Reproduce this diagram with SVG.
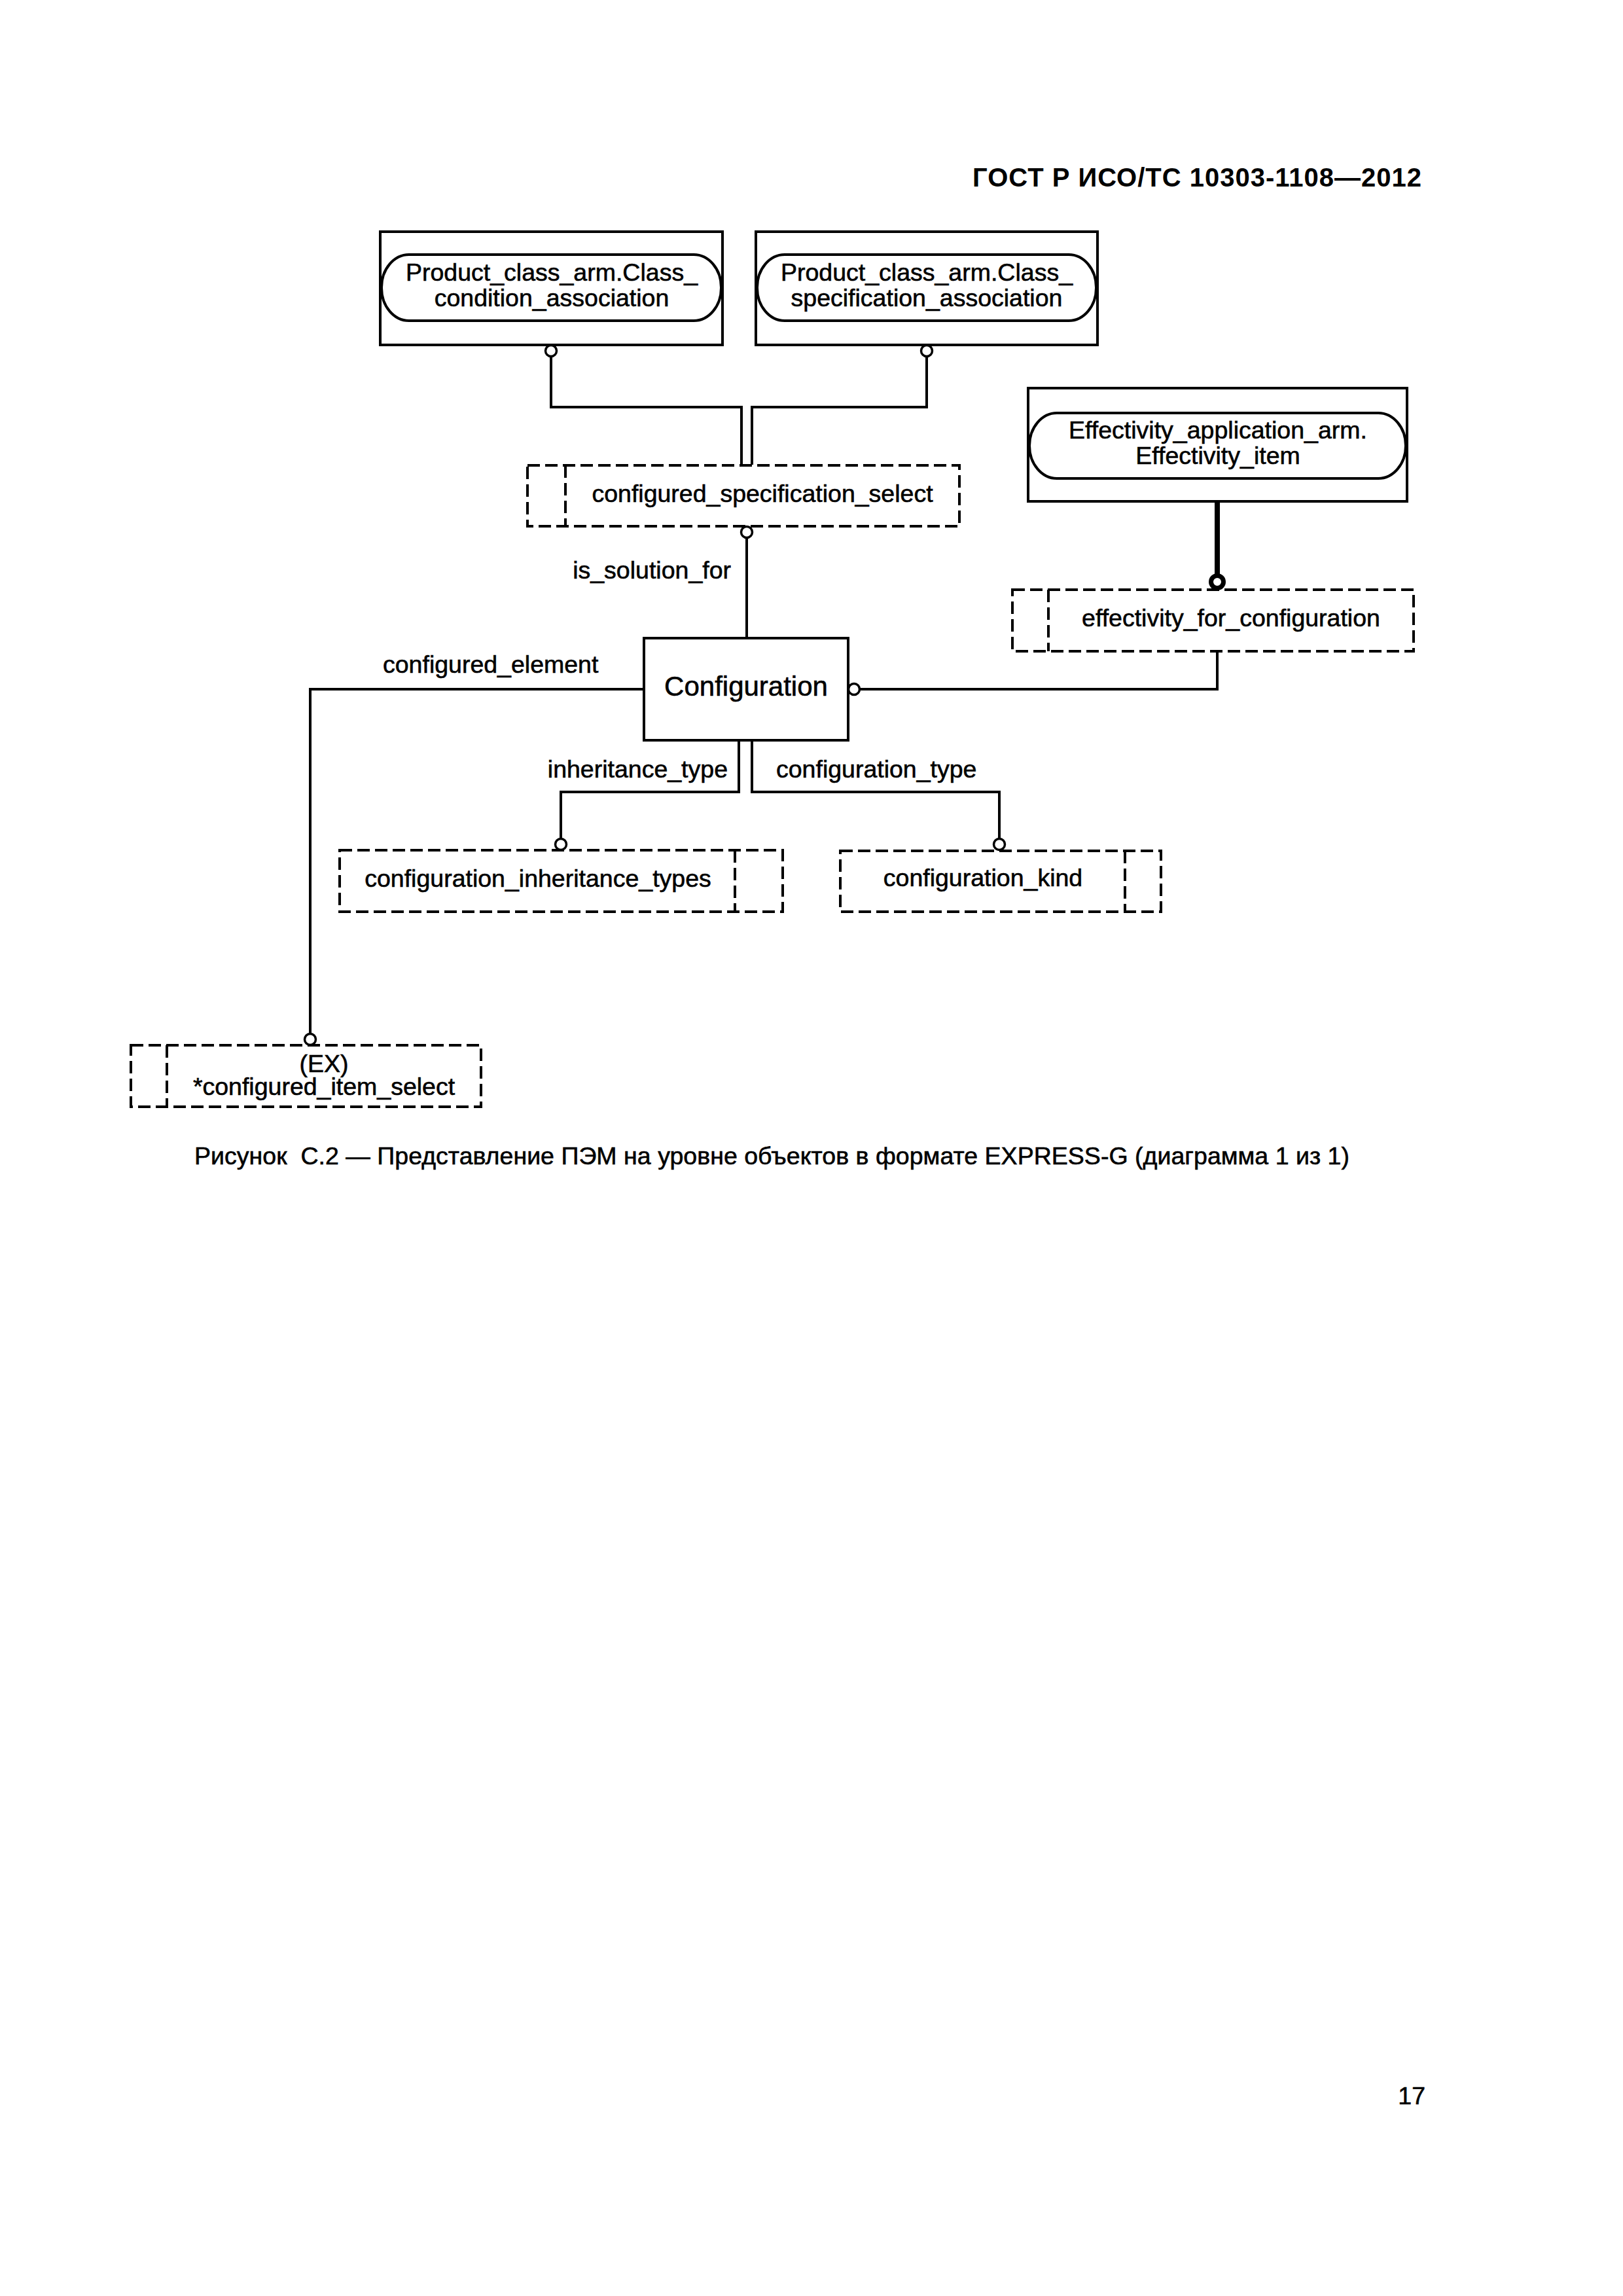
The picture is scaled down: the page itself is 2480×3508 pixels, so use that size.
<svg xmlns="http://www.w3.org/2000/svg" width="2480" height="3508" viewBox="0 0 2480 3508">
<style>
.box{fill:none;stroke:#000;stroke-width:4}
.dash{fill:none;stroke:#000;stroke-width:4;stroke-dasharray:19 8}
.ln{fill:none;stroke:#000;stroke-width:4}
.thick{fill:none;stroke:#000;stroke-width:8}
.circ{fill:#fff;stroke:#000;stroke-width:3.5}
.tcirc{fill:#fff;stroke:#000;stroke-width:7}
.t{font-family:"Liberation Sans",Arial,sans-serif;font-size:37.5px;fill:#000;stroke:#000;stroke-width:0.6}
.tc{font-family:"Liberation Sans",Arial,sans-serif;font-size:37.5px;fill:#000;text-anchor:middle;stroke:#000;stroke-width:0.6}
.big{font-family:"Liberation Sans",Arial,sans-serif;font-size:42px;fill:#000;text-anchor:middle;stroke:#000;stroke-width:0.6}
.hdr{font-family:"Liberation Sans",Arial,sans-serif;font-size:40px;font-weight:bold;fill:#000;text-anchor:end}
</style>
<rect x="0" y="0" width="2480" height="3508" fill="#fff"/>
<text class="hdr" x="2172" y="285" textLength="686">ГОСТ Р ИСО/ТС 10303-1108—2012</text>

<g id="connectors">
<path class="ln" d="M842 545 V622 H1133 V710"/>
<path class="ln" d="M1416 545 V622 H1149 V710"/>
<path class="ln" d="M1141 822 V975"/>
<path class="thick" d="M1860 766 V880"/>
<path class="ln" d="M1860 995 V1053 H1314"/>
<path class="ln" d="M984 1053 H474 V1580"/>
<path class="ln" d="M1129 1131 V1210 H857 V1281"/>
<path class="ln" d="M1149 1131 V1210 H1527 V1281"/>
<circle class="circ" cx="842" cy="536" r="8.5"/>
<circle class="circ" cx="1416" cy="536" r="8.5"/>
<circle class="circ" cx="1141" cy="813" r="8.5"/>
<circle class="circ" cx="1305" cy="1053" r="8.5"/>
<circle class="circ" cx="857" cy="1290" r="8.5"/>
<circle class="circ" cx="1527" cy="1290" r="8.5"/>
<circle class="circ" cx="474" cy="1588" r="8.5"/>
<circle class="tcirc" cx="1860" cy="889" r="9.5"/>
<text class="t" x="1117" y="884" text-anchor="end">is_solution_for</text>
<text class="t" x="585" y="1028">configured_element</text>
<text class="t" x="1112" y="1188" text-anchor="end">inheritance_type</text>
<text class="t" x="1186" y="1188">configuration_type</text>
</g>

<g id="product_class_condition">
<rect class="box" x="581" y="354" width="523" height="173"/>
<rect class="box" x="583" y="389" width="519" height="101" rx="42" ry="50"/>
<text class="tc" x="843" y="429">Product_class_arm.Class_</text>
<text class="tc" x="843" y="468">condition_association</text>
</g>

<g id="product_class_specification">
<rect class="box" x="1155" y="354" width="522" height="173"/>
<rect class="box" x="1157" y="389" width="518" height="101" rx="42" ry="50"/>
<text class="tc" x="1416" y="429">Product_class_arm.Class_</text>
<text class="tc" x="1416" y="468">specification_association</text>
</g>

<g id="effectivity_item">
<rect class="box" x="1571" y="593" width="579" height="173"/>
<rect class="box" x="1573" y="631" width="575" height="100" rx="42" ry="50"/>
<text class="tc" x="1861" y="670">Effectivity_application_arm.</text>
<text class="tc" x="1861" y="709">Effectivity_item</text>
</g>

<g id="configured_specification_select">
<rect class="dash" x="806" y="711" width="660" height="93"/>
<line class="dash" x1="864" y1="711" x2="864" y2="804"/>
<text class="tc" x="1165" y="767">configured_specification_select</text>
</g>

<g id="effectivity_for_configuration">
<rect class="dash" x="1547" y="901" width="613" height="94"/>
<line class="dash" x1="1602" y1="901" x2="1602" y2="995"/>
<text class="tc" x="1881" y="957">effectivity_for_configuration</text>
</g>

<g id="configuration">
<rect class="box" x="984" y="975" width="312" height="156"/>
<text class="big" x="1140" y="1063">Configuration</text>
</g>

<g id="configuration_inheritance_types">
<rect class="dash" x="519" y="1299" width="677" height="94"/>
<line class="dash" x1="1123" y1="1299" x2="1123" y2="1393"/>
<text class="tc" x="822" y="1355">configuration_inheritance_types</text>
</g>

<g id="configuration_kind">
<rect class="dash" x="1284" y="1300" width="490" height="93"/>
<line class="dash" x1="1719" y1="1300" x2="1719" y2="1393"/>
<text class="tc" x="1502" y="1354">configuration_kind</text>
</g>

<g id="configured_item_select">
<rect class="dash" x="200" y="1597" width="535" height="94"/>
<line class="dash" x1="255" y1="1597" x2="255" y2="1691"/>
<text class="tc" x="495" y="1638">(EX)</text>
<text class="tc" x="495" y="1673">*configured_item_select</text>
</g>

<text class="t" x="297" y="1779" textLength="1765" xml:space="preserve">Рисунок  С.2 — Представление ПЭМ на уровне объектов в формате EXPRESS-G (диаграмма 1 из 1)</text>
<text class="t" x="2178" y="3215" text-anchor="end">17</text>
</svg>
